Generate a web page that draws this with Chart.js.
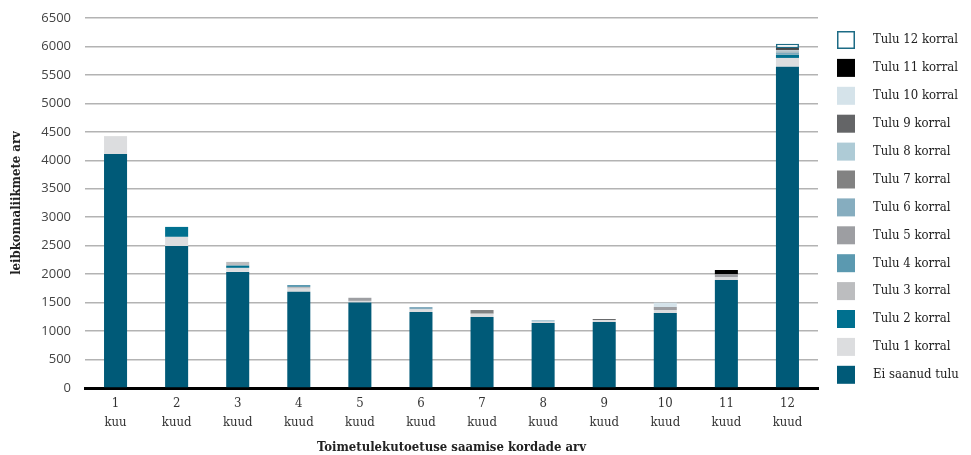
<!DOCTYPE html>
<html>
<head>
<meta charset="utf-8">
<script src="https://cdn.jsdelivr.net/npm/chart.js@4.4.0/dist/chart.umd.min.js"></script>
<style>
  html, body { margin: 0; padding: 0; background: #ffffff; }
  #wrap { position: relative; width: 971px; height: 455px; }
</style>
</head>
<body>
<div id="wrap"><canvas id="c" width="971" height="455"></canvas></div>
<script>
// Months of receiving subsistence benefit (x categories, two-line labels)
const categories = [
  ['1', 'kuu'], ['2', 'kuud'], ['3', 'kuud'], ['4', 'kuud'], ['5', 'kuud'], ['6', 'kuud'],
  ['7', 'kuud'], ['8', 'kuud'], ['9', 'kuud'], ['10', 'kuud'], ['11', 'kuud'], ['12', 'kuud']
];

// Household members by number of times income was received
const eiSaanud = [4110, 2495, 2040, 1690, 1500, 1335, 1247, 1142, 1160, 1318, 1897, 5645];
const tulu1    = [ 315,  160,   70,   55,   30,   45,   58,   20,   35,   52,   47,  153];
const tulu2    = [   0,  175,   40,    0,    0,    0,    0,    0,    0,    0,    0,   58];
const tulu3    = [   0,    0,   65,   30,    0,    0,    0,    0,    0,    0,    0,   10];
const tulu4    = [   0,    0,    0,   35,    0,    0,    0,    0,    0,    0,    0,   15];
const tulu5    = [   0,    0,    0,    0,   55,    0,    0,    0,    0,   53,   53,   10];
const tulu6    = [   0,    0,    0,    0,    0,   43,    0,    0,    0,    0,    0,   15];
const tulu7    = [   0,    0,    0,    0,    0,    0,   65,    0,    0,    0,    0,    5];
const tulu8    = [   0,    0,    0,    0,    0,    0,    0,   33,    0,    0,    0,   15];
const tulu9    = [   0,    0,    0,    0,    0,    0,    0,    0,   17,    0,    0,    5];
const tulu10   = [   0,    0,    0,    0,    0,    0,    0,    0,    0,   76,    0,   10];
const tulu11   = [   0,    0,    0,    0,    0,    0,    0,    0,    0,    0,   76,   27];
const tulu12   = [   0,    0,    0,    0,    0,    0,    0,    0,    0,    0,    0,   81];

const yTicks = [0, 500, 1000, 1500, 2000, 2500, 3000, 3500, 4000, 4500, 5000, 5500, 6000, 6500];

const seriesNames = [
  'Ei saanud tulu', 'Tulu 1 korral', 'Tulu 2 korral', 'Tulu 3 korral', 'Tulu 4 korral',
  'Tulu 5 korral', 'Tulu 6 korral', 'Tulu 7 korral', 'Tulu 8 korral', 'Tulu 9 korral',
  'Tulu 10 korral', 'Tulu 11 korral', 'Tulu 12 korral'
];
const seriesValues = [eiSaanud, tulu1, tulu2, tulu3, tulu4, tulu5, tulu6, tulu7, tulu8, tulu9, tulu10, tulu11, tulu12];
const seriesColors = [
  '#005a78', '#dcdddf', '#00708f', '#bcbdbf', '#5b99b0', '#9d9ea2', '#86adbf',
  '#828282', '#aecbd6', '#646567', '#d5e3ea', '#000000', '#ffffff'
];

const slab = '"DejaVu Serif Condensed", "DejaVu Serif", serif';
const sans = '"Open Sans", "Liberation Sans", sans-serif';

const datasets = seriesNames.map((name, i) => ({
  label: name,
  data: seriesValues[i],
  backgroundColor: seriesColors[i],
  borderColor: i === 12 ? '#1c6b85' : seriesColors[i],
  borderWidth: i === 12 ? 1.5 : 0,
  borderSkipped: false,
  barPercentage: 0.377,
  categoryPercentage: 1.0
}));

// Legend drawn on the right, top item = last series
const sideLegend = {
  id: 'sideLegend',
  afterDraw(chart) {
    const ctx = chart.ctx;
    ctx.save();
    ctx.font = '13px ' + slab;
    ctx.textBaseline = 'middle';
    ctx.textAlign = 'left';
    const ds = chart.data.datasets;
    for (let k = 0; k < ds.length; k++) {
      const d = ds[ds.length - 1 - k];
      const top = 31 + k * 27.9;
      ctx.fillStyle = d.backgroundColor;
      ctx.fillRect(837, top, 18, 18);
      if (d.borderWidth > 0) {
        ctx.strokeStyle = d.borderColor;
        ctx.lineWidth = 1.5;
        ctx.strokeRect(837.75, top + 0.75, 16.5, 16.5);
      }
      ctx.fillStyle = '#222222';
      ctx.fillText(d.label, 873, top + 9);
    }
    ctx.restore();
  }
};

new Chart(document.getElementById('c'), {
  type: 'bar',
  data: { labels: categories, datasets: datasets },
  plugins: [sideLegend],
  options: {
    responsive: false,
    animation: false,
    layout: { padding: { top: 0, right: 153, bottom: 0, left: 0 } },
    plugins: {
      legend: { display: false },
      tooltip: { enabled: false }
    },
    scales: {
      x: {
        stacked: true,
        grid: { display: false, drawTicks: false },
        border: { display: true, color: '#000000', width: 3 },
        ticks: {
          color: '#333333',
          font: { family: slab, size: 13, lineHeight: 1.4 },
          padding: 7,
          maxRotation: 0,
          autoSkip: false
        },
        title: {
          display: true,
          text: 'Toimetulekutoetuse saamise kordade arv',
          color: '#222222',
          font: { family: slab, size: 13, weight: 'bold' },
          padding: { top: 8, bottom: 0 }
        },
        afterFit(scale) { scale.height = 67; }
      },
      y: {
        stacked: true,
        min: 0,
        max: 6500,
        afterBuildTicks(scale) { scale.ticks = yTicks.map(v => ({ value: v })); },
        grid: { color: '#b3b3b3', lineWidth: 1.6, drawTicks: false },
        border: { display: false },
        ticks: {
          color: '#444444',
          font: { family: sans, size: 13 },
          padding: 14,
          callback: (v) => String(v)
        },
        title: {
          display: true,
          text: 'leibkonnaliikmete arv',
          color: '#222222',
          font: { family: slab, size: 13, weight: 'bold' },
          padding: { top: 9, bottom: 0 }
        },
        afterFit(scale) {
          scale.width = 85;
          scale.paddingTop = 18;
        }
      }
    }
  }
});
</script>
</body>
</html>
